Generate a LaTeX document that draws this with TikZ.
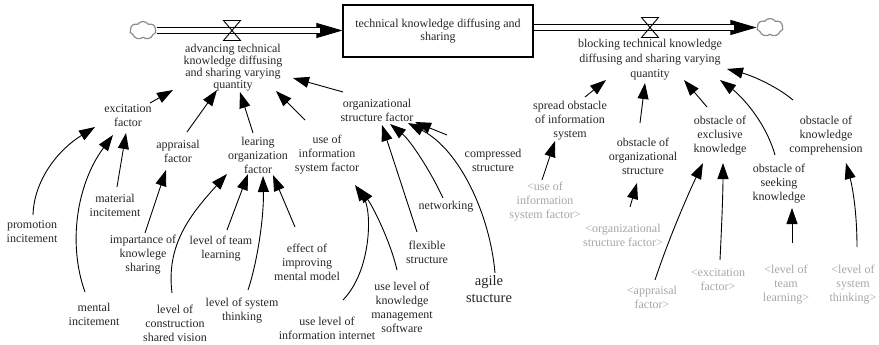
\documentclass[tikz,border=0pt]{standalone}
\usepackage{fontspec}
\setmainfont{Liberation Serif}
\usetikzlibrary{arrows.meta,shapes.symbols}
\definecolor{ink}{HTML}{262626}
\definecolor{shadowtxt}{HTML}{A6A6A6}
\definecolor{cloudline}{HTML}{8C8C8C}
\tikzset{valve/.pic={\draw[line width=0.9pt] (-8.5,-10)--(8.5,-10)--(-8.5,10)--(8.5,10)--cycle;}}
\begin{document}
\begin{tikzpicture}[x=1pt,y=-1pt,
  var/.style={align=center,inner sep=0pt,text=ink,font=\fontsize{12}{14}\selectfont},
  ghost/.style={var,text=shadowtxt},
  big/.style={font=\fontsize{14.5}{17}\selectfont},
  link/.style={draw=black,line width=0.9pt,-{Triangle[length=16pt,width=11pt]}},
  stock/.style={draw=black,line width=1.1pt,minimum width=190pt,minimum height=52pt,align=center,text=ink,font=\fontsize{12}{13}\selectfont,inner sep=0pt},
  pipe/.style={draw=black,line width=1pt,double=white,double distance=4.5pt},
  pipehead/.style={draw=black,line width=0.9pt,-{Triangle[length=26pt,width=15pt]}},
  cloudy/.style={cloud,cloud puffs=7,cloud puff arc=110,aspect=1.4,draw=cloudline,line width=1.2pt,fill=white,minimum width=26pt,minimum height=18pt,inner sep=0pt}
]
\useasboundingbox (0,0) rectangle (879,345);

% stock, clouds and the two flows
\node[stock] (TK) at (438,31) {technical knowledge diffusing and\\sharing};
\node[cloudy] (CL) at (143,30.5) {};
\node[cloudy] (CR) at (770,27.5) {};
\draw[pipehead] (CL.east) -- (CL.east -| TK.west);
\draw[pipe, shorten >=22pt] (CL.east) -- (CL.east -| TK.west);
\draw[pipehead] (TK.east |- CR.west) -- (CR.west);
\draw[pipe, shorten >=22pt] (TK.east |- CR.west) -- (CR.west);
\pic at (232,30.5) {valve};
\pic at (650,27.5) {valve};

\node[var, font=\fontsize{12}{11.8}\selectfont] (FL) at (233,67.5) {advancing technical\\knowledge diffusing\\and sharing varying\\quantity};
\node[var, font=\fontsize{12}{15}\selectfont] (FR) at (650,60) {blocking technical knowledge\\diffusing and sharing varying\\quantity};

% auxiliary variables, left part
\node[var] (EX) at (128,116) {excitation\\factor};
\node[var] (AP) at (178,151) {appraisal\\factor};
\node[var] (LO) at (258,155) {learing\\organization\\factor};
\node[var] (US) at (327,155) {use of\\information\\system factor};
\node[var] (OS) at (377,110) {organizational\\structure factor};
\node[var] (CM) at (493,160) {compressed\\structure};
\node[var] (PI) at (32,232) {promotion\\incitement};
\node[var] (MA) at (115,205) {material\\incitement};
\node[var] (MI) at (94,314) {mental\\incitement};
\node[var] (IM) at (143,255) {impartance of\\knowlege\\sharing};
\node[var] (TL) at (221,249) {level of team\\learning};
\node[var] (CS) at (175,323) {level of\\construction\\shared vision};
\node[var] (ST) at (242,311) {level of system\\thinking};
\node[var] (EF) at (307,262) {effect of\\improving\\mental model};
\node[var] (UI) at (327,328) {use level of\\information internet};
\node[var] (KM) at (402,307) {use level of\\knowledge\\management\\software};
\node[var] (NW) at (446,207) {networking};
\node[var] (FS) at (427,252) {flexible\\structure};
\node[var, big] (AG) at (489,289) {agile\\stucture};

% auxiliary variables, right part
\node[var] (SO) at (570,121) {spread obstacle\\of information\\system};
\node[var] (OO) at (643,156) {obstacle of\\organizational\\structure};
\node[var] (OE) at (720,136) {obstacle of\\exclusive\\knowledge};
\node[var] (OC) at (826,136) {obstacle of\\knowledge\\comprehension};
\node[var] (OK) at (779,184) {obstacle of\\seeking\\knowledge};

% shadow variables
\node[ghost] (sU) at (545,202) {<use of\\information\\system factor>};
\node[ghost] (sO) at (623,235) {<organizational\\structure factor>};
\node[ghost] (sA) at (652,297) {<appraisal\\factor>};
\node[ghost] (sE) at (718,280) {<excitation\\factor>};
\node[ghost] (sT) at (786,285) {<level of\\team\\learning>};
\node[ghost] (sS) at (853,285) {<level of\\system\\thinking>};

% links into the advancing flow
\draw[link] ([shift={(22,-13)}]EX.center) -- ([shift={(-60,22.5)}]FL.center);
\draw[link] ([shift={(9,-19)}]AP.center) -- ([shift={(-16,22.5)}]FL.center);
\draw[link] ([shift={(-5,-22)}]LO.center) -- ([shift={(7,24.5)}]FL.center);
\draw[link] ([shift={(-22,-35)}]US.center) -- ([shift={(43,23.5)}]FL.center);
\draw[link] ([shift={(-34,-18)}]OS.center) -- ([shift={(60,10.5)}]FL.center);

% excitation factor
\draw[link] ([shift={(1,-17)}]PI.center) .. controls +(1,-35) and +(-37,23) .. ([shift={(-33,11)}]EX.center);
\draw[link] ([shift={(-9,-22)}]MI.center) .. controls +(-17,-47) and +(-37,50) .. ([shift={(-15,19)}]EX.center);
\draw[link] ([shift={(2,-18)}]MA.center) -- ([shift={(-2,17)}]EX.center);

% appraisal factor
\draw[link] ([shift={(2,-22)}]IM.center) -- ([shift={(-12,19)}]AP.center);

% learning organization factor
\draw[link] ([shift={(-3,-30)}]CS.center) .. controls +(-6,-48) and +(-37,41) .. ([shift={(-31,19)}]LO.center);
\draw[link] ([shift={(6,-19)}]TL.center) -- ([shift={(-10,19)}]LO.center);
\draw[link] ([shift={(6,-21)}]ST.center) .. controls +(10,-30) and +(1,39) .. ([shift={(5,21)}]LO.center);
\draw[link] ([shift={(-12,-35)}]EF.center) -- ([shift={(15,20)}]LO.center);

% use of information system factor
\draw[link] ([shift={(16,-28)}]UI.center) .. controls +(29,-30) and +(17,25) .. ([shift={(28,30)}]US.center);
\draw[link] ([shift={(-5,-37)}]KM.center) .. controls +(-7,-30) and +(14,18) .. ([shift={(31,32)}]US.center);

% organizational structure factor
\draw[link] ([shift={(-10,-20)}]FS.center) -- ([shift={(5,15)}]OS.center);
\draw[link] ([shift={(-3,-9)}]NW.center) .. controls +(-13,-28) and +(20,16) .. ([shift={(13,14)}]OS.center);
\draw[link] ([shift={(6,-16)}]AG.center) .. controls +(-5,-58) and +(52,27) .. ([shift={(31,13)}]OS.center);
\draw[link] ([shift={(-46,-25)}]CM.center) -- ([shift={(38,12)}]OS.center);

% links into the blocking flow
\draw[link] ([shift={(15,-24)}]SO.center) -- ([shift={(-44,20)}]FR.center);
\draw[link] ([shift={(-3,-33)}]OO.center) -- ([shift={(-5,23)}]FR.center);
\draw[link] ([shift={(-13,-29)}]OE.center) -- ([shift={(34,20)}]FR.center);
\draw[link] ([shift={(-4,-29)}]OK.center) .. controls +(-10,-35) and +(20,15) .. ([shift={(70,20)}]FR.center);
\draw[link] ([shift={(-33,-36)}]OC.center) .. controls +(-18,-15) and +(23,6) .. ([shift={(77,9)}]FR.center);

% shadow variable links
\draw[link] ([shift={(-3,-22)}]sU.center) -- ([shift={(-15,20)}]SO.center);
\draw[link] ([shift={(7,-28)}]sO.center) -- ([shift={(-6,27)}]OO.center);
\draw[link] ([shift={(3,-17)}]sA.center) .. controls +(15,-45) and +(-13,27) .. ([shift={(-17,27)}]OE.center);
\draw[link] ([shift={(2,-20)}]sE.center) .. controls +(2,-40) and +(0,27) .. ([shift={(3,27)}]OE.center);
\draw[link] ([shift={(6,-42)}]sT.center) -- ([shift={(13,24)}]OK.center);
\draw[link] ([shift={(4,-38)}]sS.center) .. controls +(0,-37) and +(6,22) .. ([shift={(20,27)}]OC.center);
\end{tikzpicture}
\end{document}
